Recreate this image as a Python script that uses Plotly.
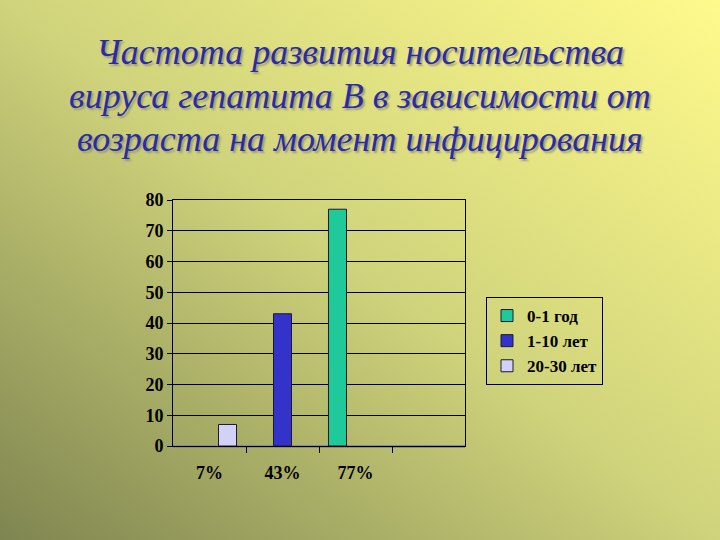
import base64
import plotly.graph_objects as go

# chart values
categories = ["7%", "43%", "77%"]
series_names = ["0-1 год", "1-10 лет", "20-30 лет"]
series_values = {
    "0-1 год": [None, None, 77, None],
    "1-10 лет": [None, 43, None, None],
    "20-30 лет": [7, None, None, None],
}
series_colors = {
    "0-1 год": "#1FC99A",
    "1-10 лет": "#3333CC",
    "20-30 лет": "#D2D2F8",
}
y_ticks = [0, 10, 20, 30, 40, 50, 60, 70, 80]
title_lines = [
    "Частота развития носительства",
    "вируса гепатита В в зависимости от",
    "возраста на момент инфицирования",
]

W, H = 720, 540
serif = "Liberation Serif, Times New Roman, serif"

# slide background: diagonal gradient, dark olive bottom-left -> light yellow top-right
bg_svg = (
    '<svg xmlns="http://www.w3.org/2000/svg" width="720" height="540" '
    'viewBox="0 0 720 540" preserveAspectRatio="none">'
    '<defs><linearGradient id="g" x1="0" y1="1" x2="1" y2="0">'
    '<stop offset="0" stop-color="#7F8550"/>'
    '<stop offset="0.5" stop-color="#CFD37B"/>'
    '<stop offset="1" stop-color="#FFFA8C"/>'
    '</linearGradient></defs>'
    '<rect width="720" height="540" fill="url(#g)"/></svg>'
)
bg_uri = "data:image/svg+xml;base64," + base64.b64encode(bg_svg.encode()).decode()

fig = go.Figure()

x_pos = [0, 1, 2, 3]
for name in series_names:
    fig.add_trace(go.Bar(
        x=x_pos, y=series_values[name], name=name,
        marker=dict(color=series_colors[name], line=dict(color="#1A1A33", width=1)),
    ))


def px_x(p):
    return p / W


def px_y(p):
    return 1 - p / H


fig.update_layout(
    width=W, height=H,
    margin=dict(l=0, r=0, t=0, b=0),
    paper_bgcolor="#C8C878",
    plot_bgcolor="rgba(0,0,0,0)",
    images=[dict(source=bg_uri, xref="paper", yref="paper", x=0, y=1,
                 sizex=1, sizey=1, xanchor="left", yanchor="top",
                 sizing="stretch", layer="below")],
    barmode="group",
    bargap=0.26,
    bargroupgap=0,
    showlegend=True,
    legend=dict(
        x=px_x(486), y=px_y(297), xanchor="left", yanchor="top",
        bgcolor="rgba(0,0,0,0)", bordercolor="#000000", borderwidth=1,
        font=dict(family=serif, size=17, color="#000000", weight="bold"),
        tracegroupgap=0, itemwidth=30,
    ),
    xaxis=dict(
        domain=[px_x(173), px_x(465)],
        range=[-0.5, 3.5],
        automargin=False,
        tickvals=[0, 1, 2],
        ticktext=categories,
        ticks="",
        ticklabelstandoff=10,
        minor=dict(tickvals=[0.5, 1.5, 2.5], ticks="outside", ticklen=6,
                   tickcolor="#000000", tickwidth=1),
        tickfont=dict(family=serif, size=18, color="#000000", weight="bold"),
        showline=True, linecolor="#000000", linewidth=1, mirror=True,
        showgrid=False, zeroline=False, fixedrange=True,
    ),
    yaxis=dict(
        domain=[px_y(446), px_y(200)],
        range=[0, 80],
        automargin=False,
        tickvals=y_ticks,
        ticks="outside", ticklen=5, tickcolor="#000000",
        tickfont=dict(family=serif, size=18, color="#000000", weight="bold"),
        showline=True, linecolor="#000000", linewidth=1, mirror=True,
        showgrid=True, gridcolor="#000000", gridwidth=1,
        zeroline=True, zerolinecolor="#8A8A8A", zerolinewidth=3,
        fixedrange=True,
    ),
)

# title, one annotation per line, with a soft grey shadow
title_y = [52, 96, 139]
for line, yp in zip(title_lines, title_y):
    fig.add_annotation(
        text=line, xref="paper", yref="paper",
        x=0.5, y=px_y(yp), xanchor="center", yanchor="middle", showarrow=False,
        font=dict(family=serif, size=36, color="#2B2BA6", style="italic",
                  shadow="2px 2px 2px #9A9A78"),
    )

# drop the browser's default page margin so the slide fills the window
fig.write_html("out.html", config={"displayModeBar": False},
               post_script="document.body.style.margin='0';")
